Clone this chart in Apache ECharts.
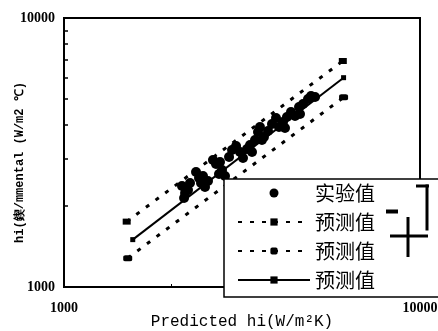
<!DOCTYPE html>
<html>
<head>
<meta charset="utf-8">
<script src="https://cdn.jsdelivr.net/npm/echarts@6/dist/echarts.min.js"></script>
<style>html,body{margin:0;padding:0;background:#fff}#c{width:438px;height:331px}</style>
</head>
<body>
<div id="c"></div>
<script>
// Experimental points (x = predicted hi, y = experimental hi)
const expX = [2145, 2188, 2230, 2174, 2259, 2349, 2395, 2426, 2457, 2489, 2538, 2621, 2673, 2743, 2779, 2833, 2725, 2908,
  2965, 3043, 3122, 3183, 3266, 3330, 3374, 3440, 3507, 3552, 3598, 3645, 3741, 3839, 3940, 4017, 4123, 4176,
  4230, 4341, 4456, 4573, 4602, 4693, 4847, 4942, 5072];
const expY = [2374, 2236, 2294, 2142, 2436, 2677, 2543, 2436, 2587, 2354, 2478, 2966, 2866, 2915, 2722, 2587, 2631, 3043,
  3231, 3343, 3176, 3017, 3259, 3372, 3176, 3519, 3770, 3933, 3519, 3612, 3802, 4036, 4250, 3933, 4107, 3900,
  4285, 4472, 4322, 4669, 4397, 4789, 5000, 5129, 5086];
// Prediction lines: +15 %, -15 %, and the centre line
const upperX = [1500, 6070];
const upperY = [1750, 6920];
const lowerX = [1510, 6100];
const lowerY = [1280, 5070];
const solidX = [1560, 6100];
const solidY = [1500, 6000];
// Series names and axis titles
const legendNames = ['实验值', '预测值', '预测值 ', '预测值  '];
const xName = 'Predicted hi(W/m²K)';
const yName = 'hi(鍥/mmental (W/m2 ℃)';
const axisMin = 1000, axisMax = 10000;

const zip = (a, b) => a.map((v, i) => [v, b[i]]);

const chart = echarts.init(document.getElementById('c'));
const labelStyle = {color: '#000', fontFamily: 'Liberation Serif', fontWeight: 'bold', fontSize: 14,
  formatter: v => String(Math.round(v))};
const blk = '#000';
const deco = (x, y, w, h) => ({type: 'rect', z: 100, shape: {x, y, width: w, height: h}, style: {fill: blk}});

chart.setOption({
  animation: false,
  backgroundColor: '#fff',
  grid: {left: 64, right: 18, top: 18, bottom: 44, containLabel: false, outerBoundsMode: 'none',
    show: true, borderColor: blk, borderWidth: 2, backgroundColor: 'transparent'},
  xAxis: {
    type: 'log', logBase: 10, min: axisMin, max: axisMax,
    name: xName, nameLocation: 'middle', nameGap: 27, nameMoveOverlap: false,
    nameTextStyle: {color: blk, fontFamily: 'Liberation Mono', fontSize: 16},
    axisLine: {show: true, lineStyle: {color: blk, width: 2}},
    axisTick: {show: false, inside: true},
    minorTick: {show: true, splitNumber: 9, length: 3, lineStyle: {color: blk, width: 1}},
    splitLine: {show: false}, minorSplitLine: {show: false},
    axisLabel: Object.assign({margin: 14}, labelStyle)
  },
  yAxis: {
    type: 'log', logBase: 10, min: axisMin, max: axisMax,
    name: yName, nameLocation: 'middle', nameGap: 38, nameRotate: 90, nameMoveOverlap: false,
    nameTextStyle: {color: blk, fontFamily: 'Liberation Mono', fontWeight: 'bold', fontSize: 12, padding: [0, 20, 0, 0]},
    axisLine: {show: true, lineStyle: {color: blk, width: 2}},
    axisTick: {show: false, inside: true},
    minorTick: {show: true, splitNumber: 9, length: 4, lineStyle: {color: blk, width: 1.5}},
    splitLine: {show: false}, minorSplitLine: {show: false},
    axisLabel: Object.assign({margin: 9}, labelStyle)
  },
  legend: {
    orient: 'vertical', left: 224, top: 179,
    padding: [4, 56, 7, 13],
    itemWidth: 72, itemHeight: 9, itemGap: 9,
    backgroundColor: '#fff', borderColor: blk, borderWidth: 1.5,
    selectedMode: false,
    textStyle: {color: blk, fontSize: 20, fontFamily: 'Noto Sans CJK SC'},
    data: legendNames
  },
  graphic: [
    deco(386, 209.5, 12, 4),
    deco(390, 234.5, 38, 3),
    deco(406.5, 217, 3, 40),
    deco(416, 184.5, 13, 3),
    deco(425.5, 184.5, 3, 46)
  ],
  series: [
    {name: legendNames[0], type: 'scatter', data: zip(expX, expY), symbol: 'circle', symbolSize: 10,
      itemStyle: {color: blk, opacity: 1}, z: 3},
    {name: legendNames[1], type: 'line', data: zip(upperX, upperY), symbol: 'rect', symbolSize: [8, 6],
      lineStyle: {color: blk, width: 3, type: [4, 8]}, itemStyle: {color: blk}},
    {name: legendNames[2], type: 'line', data: zip(lowerX, lowerY), symbol: 'roundRect', symbolSize: [9, 6],
      lineStyle: {color: blk, width: 3, type: [4, 8]}, itemStyle: {color: blk}},
    {name: legendNames[3], type: 'line', data: zip(solidX, solidY), symbol: 'rect', symbolSize: 5,
      lineStyle: {color: blk, width: 2}, itemStyle: {color: blk}}
  ]
});
</script>
</body>
</html>
